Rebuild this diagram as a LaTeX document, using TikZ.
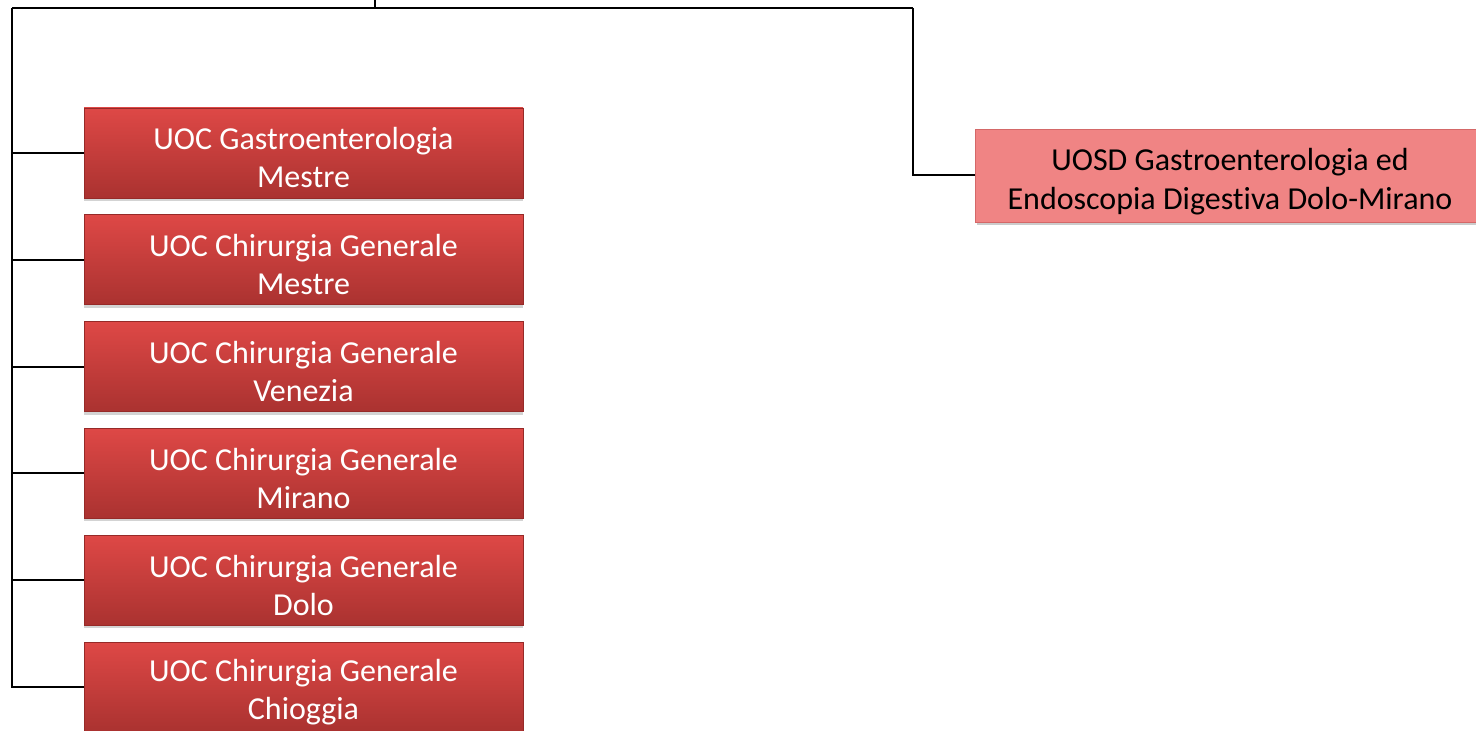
\documentclass[tikz,border=0pt]{standalone}
\usepackage{fontspec}
\setmainfont{Carlito}[Ligatures=NoCommon]
\usetikzlibrary{positioning,shadows}

\definecolor{uoctop}{RGB}{222,72,70}
\definecolor{uocbot}{RGB}{170,50,48}
\definecolor{uocedge}{RGB}{150,42,40}
\definecolor{uosdfill}{RGB}{240,132,132}
\definecolor{uosdedge}{RGB}{212,104,104}

\begin{document}
\begin{tikzpicture}[x=0.5pt,y=-0.5pt,node distance=8pt,line width=1pt]
\tikzstyle{uoc}=[draw=uocedge,line width=0.4pt,top color=uoctop,bottom color=uocbot,text=white,
  font=\fontsize{16}{19}\selectfont,align=center,minimum width=219.5pt,minimum height=45pt,inner sep=0pt,
  text height=35pt,
  drop shadow={shadow xshift=0pt,shadow yshift=-1.5pt,opacity=0.35}]
\tikzstyle{uosd}=[draw=uosdedge,line width=0.4pt,fill=uosdfill,text=black,
  font=\fontsize{16}{19.5}\selectfont,align=center,minimum width=255pt,minimum height=46.5pt,inner sep=0pt,
  text height=37pt,
  drop shadow={shadow xshift=1pt,shadow yshift=-1.5pt,opacity=0.4}]

\useasboundingbox (0,0) rectangle (1476,731);

% left column
\node[uoc] (gastro) at (303.5,153) {UOC Gastroenterologia\\Mestre};
\node[uoc] (chirmestre) [below=of gastro] {UOC Chirurgia Generale\\Mestre};
\node[uoc] (chirvenezia) [below=of chirmestre] {UOC Chirurgia Generale\\Venezia};
\node[uoc] (chirmirano) [below=of chirvenezia] {UOC Chirurgia Generale\\Mirano};
\node[uoc] (chirdolo) [below=of chirmirano] {UOC Chirurgia Generale\\Dolo};
\node[uoc] (chirchioggia) [below=of chirdolo] {UOC Chirurgia Generale\\Chioggia};

% right
\node[uosd] (uosd) at (1230,175.5) {UOSD Gastroenterologia ed\\Endoscopia Digestiva Dolo-Mirano};

\coordinate (top) at (375,0);
\coordinate (busl) at (12,8);
\coordinate (busr) at (913,8);

\draw (top) -- (top |- busl);
\draw (busl) -- (busr);
\foreach \n in {gastro,chirmestre,chirvenezia,chirmirano,chirdolo,chirchioggia}
  \draw (busl) |- (\n.west);
\draw (busr) |- (uosd.west);
\end{tikzpicture}
\end{document}
